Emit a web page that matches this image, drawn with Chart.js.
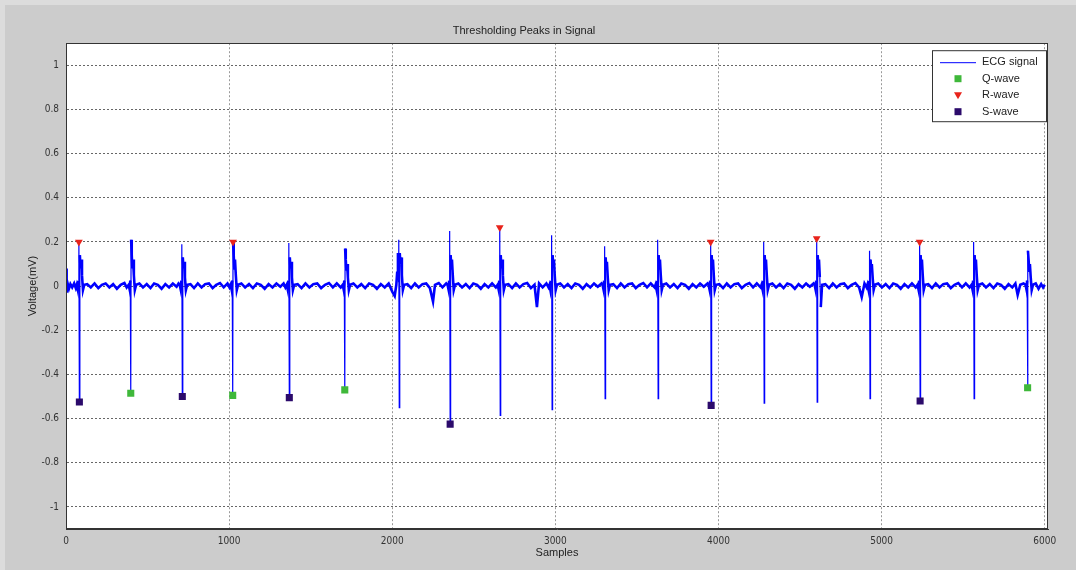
<!DOCTYPE html>
<html>
<head>
<meta charset="utf-8">
<title>Thresholding Peaks in Signal</title>
<script src="https://cdn.jsdelivr.net/npm/chart.js@4.4.1/dist/chart.umd.min.js"></script>
<style>
  html, body { margin: 0; padding: 0; background: #cccccc; }
  #wrap { width: 1076px; height: 570px; }
</style>
</head>
<body>
<div id="wrap"><canvas id="ecg-chart" width="1076" height="570"></canvas></div>
<script>
// axis ticks
const xTicks = [0, 1000, 2000, 3000, 4000, 5000, 6000];
const yTicks = [-1, -0.8, -0.6, -0.4, -0.2, 0, 0.2, 0.4, 0.6, 0.8, 1];

// ECG trace: [sample, mV]
const ecgTrace = [
  [0,0.08],[4,-0.03],[10,0.012],[18,-0.012],[27,0.009],[38,-0.006],[50,0.012],[60,-0.009],
  [66,0.006],[72,-0.015],[76,0.025],[79,0.20],[82,-0.525],[85,0.14],[89,0.08],[93,0.12],[98,0.05],[104,-0.018],[112,0.006],
  [130,0.009],[152,-0.006],[175,0.012],[198,-0.009],[220,0.006],[243,0.012],[266,-0.006],[289,0.009],[312,-0.012],[335,0.006],[358,0.014],[372,-0.006],
  [384,0.006],[390,-0.015],[394,0.025],[397,-0.485],[399,0.21],[403,0.14],[407,0.08],[411,0.12],[416,0.05],[422,-0.018],[430,0.006],
  [450,0.012],[472,-0.006],[495,0.009],[518,-0.009],[540,0.012],[563,0.006],[586,-0.012],[609,0.009],[632,-0.006],[655,0.012],[678,-0.003],[690,0.012],
  [697,0.006],[703,-0.015],[707,0.025],[710,0.19],[713,-0.50],[716,0.13],[720,0.08],[724,0.11],[729,0.04],[735,-0.018],[743,0.006],
  [763,0.009],[785,-0.009],[808,0.012],[831,-0.006],[853,0.009],[876,0.012],[899,-0.009],[921,0.006],[944,0.014],[967,-0.006],[990,0.012],[1002,-0.006],
  [1009,0.006],[1015,-0.015],[1019,0.025],[1022,-0.495],[1024,0.20],[1028,0.14],[1032,0.08],[1036,0.12],[1041,0.05],[1047,-0.018],[1055,0.006],
  [1075,0.012],[1098,-0.006],[1122,0.009],[1146,-0.009],[1170,0.012],[1194,0.006],[1218,-0.012],[1242,0.009],[1266,-0.006],[1290,0.012],[1314,-0.003],[1334,0.012],[1345,-0.006],
  [1353,0.006],[1359,-0.015],[1363,0.025],[1366,0.195],[1369,-0.505],[1372,0.13],[1376,0.08],[1380,0.11],[1385,0.04],[1391,-0.018],[1399,0.006],
  [1420,0.009],[1444,-0.009],[1468,0.012],[1492,-0.006],[1516,0.009],[1540,0.012],[1564,-0.009],[1588,0.006],[1612,0.014],[1636,-0.006],[1660,0.012],[1684,-0.006],
  [1696,0.006],[1702,-0.015],[1706,0.025],[1709,-0.47],[1711,0.17],[1715,0.12],[1719,0.07],[1723,0.10],[1728,0.04],[1734,-0.018],[1742,0.006],
  [1762,0.012],[1786,-0.006],[1810,0.009],[1834,-0.009],[1858,0.012],[1882,0.006],[1906,-0.012],[1930,0.009],[1954,-0.006],[1978,0.012],[2000,-0.025],[2015,-0.045],[2025,0.006],
  [2030,0.06],[2035,0.15],[2038,0.02],[2040,0.21],[2043,-0.55],[2046,0.15],[2050,0.10],[2054,0.13],[2059,0.05],[2065,-0.018],[2073,0.006],
  [2093,0.009],[2116,-0.009],[2139,0.012],[2162,-0.006],[2185,0.009],[2208,0.012],[2231,-0.009],[2250,-0.07],[2262,0.006],[2285,0.014],[2308,-0.006],[2331,0.012],
  [2339,0.006],[2345,-0.015],[2349,0.025],[2352,0.25],[2355,-0.625],[2358,0.14],[2362,0.08],[2366,0.12],[2371,0.05],[2377,-0.018],[2385,0.006],
  [2405,0.012],[2428,-0.006],[2451,0.009],[2474,-0.009],[2497,0.012],[2520,0.006],[2543,-0.012],[2566,0.009],[2589,-0.006],[2612,0.012],[2635,-0.006],
  [2646,0.006],[2652,-0.015],[2656,0.025],[2659,0.265],[2662,-0.585],[2665,0.14],[2669,0.08],[2673,0.12],[2678,0.05],[2684,-0.018],[2692,0.006],
  [2712,0.009],[2735,-0.009],[2758,0.012],[2781,-0.006],[2804,0.009],[2827,0.014],[2850,-0.009],[2872,0.006],[2887,-0.095],[2900,0.012],[2922,-0.006],[2945,0.012],[2958,-0.006],
  [2964,0.006],[2969,-0.015],[2974,0.025],[2977,0.23],[2980,-0.56],[2983,0.14],[2987,0.09],[2991,0.12],[2996,0.05],[3002,-0.018],[3010,0.006],
  [3030,0.012],[3053,-0.006],[3076,0.009],[3099,-0.009],[3122,0.012],[3145,0.006],[3168,-0.012],[3191,0.009],[3214,-0.006],[3237,0.012],[3260,-0.003],[3283,0.012],
  [3289,0.006],[3295,-0.015],[3299,0.025],[3302,0.18],[3305,-0.51],[3308,0.13],[3312,0.08],[3316,0.11],[3321,0.04],[3327,-0.018],[3335,0.006],
  [3355,0.009],[3378,-0.009],[3401,0.012],[3424,-0.006],[3447,0.009],[3470,0.012],[3493,-0.009],[3516,0.006],[3539,0.014],[3562,-0.006],[3585,0.012],[3608,-0.006],
  [3614,0.006],[3620,-0.015],[3624,0.025],[3627,0.21],[3630,-0.51],[3633,0.14],[3637,0.08],[3641,0.12],[3646,0.05],[3652,-0.018],[3660,0.006],
  [3680,0.012],[3703,-0.006],[3726,0.009],[3749,-0.009],[3772,0.012],[3795,0.006],[3818,-0.012],[3841,0.009],[3864,-0.006],[3887,0.012],[3910,-0.003],[3933,0.012],
  [3939,0.006],[3945,-0.015],[3949,0.025],[3952,0.20],[3955,-0.54],[3958,0.14],[3962,0.08],[3966,0.12],[3971,0.05],[3977,-0.018],[3985,0.006],
  [4005,0.009],[4028,-0.009],[4051,0.012],[4074,-0.006],[4097,0.009],[4120,0.012],[4143,-0.009],[4166,0.006],[4189,0.014],[4212,-0.006],[4235,0.012],[4258,-0.006],
  [4264,0.006],[4270,-0.015],[4274,0.025],[4277,0.20],[4280,-0.53],[4283,0.14],[4287,0.08],[4291,0.12],[4296,0.05],[4302,-0.018],[4310,0.006],
  [4330,0.012],[4353,-0.006],[4376,0.009],[4399,-0.009],[4422,0.012],[4445,0.006],[4468,-0.012],[4491,0.009],[4514,-0.006],[4537,0.012],[4560,-0.003],[4583,0.012],
  [4589,0.006],[4595,-0.015],[4599,0.025],[4602,0.215],[4605,-0.525],[4608,0.14],[4612,0.08],[4616,0.12],[4621,0.04],[4627,-0.095],[4635,0.006],
  [4655,0.009],[4678,-0.009],[4701,0.012],[4724,-0.006],[4747,0.009],[4770,0.012],[4793,-0.009],[4816,0.006],[4839,0.014],[4862,-0.006],[4878,-0.05],[4895,0.012],[4908,-0.006],
  [4913,0.006],[4919,-0.015],[4923,0.025],[4926,0.16],[4929,-0.51],[4932,0.12],[4936,0.07],[4940,0.10],[4945,0.04],[4951,-0.018],[4959,0.006],
  [4979,0.012],[5002,-0.006],[5025,0.009],[5048,-0.009],[5071,0.012],[5094,0.006],[5117,-0.012],[5140,0.009],[5163,-0.006],[5186,0.012],[5209,-0.006],
  [5220,0.006],[5226,-0.015],[5230,0.025],[5233,0.20],[5236,-0.52],[5239,0.14],[5243,0.08],[5247,0.12],[5252,0.05],[5258,-0.018],[5266,0.006],
  [5286,0.009],[5309,-0.009],[5332,0.012],[5355,-0.006],[5378,0.009],[5401,0.012],[5424,-0.009],[5447,0.006],[5470,0.014],[5493,-0.006],[5516,0.012],[5539,-0.006],
  [5551,0.006],[5557,-0.015],[5561,0.025],[5564,0.20],[5567,-0.51],[5570,0.14],[5574,0.08],[5578,0.12],[5583,0.05],[5589,-0.018],[5597,0.006],
  [5617,0.012],[5640,-0.006],[5663,0.009],[5686,-0.009],[5709,0.012],[5732,0.006],[5755,-0.012],[5778,0.009],[5801,-0.006],[5820,0.012],[5834,-0.04],[5850,0.006],[5870,0.012],
  [5882,0.006],[5888,-0.015],[5892,0.025],[5895,-0.46],[5897,0.16],[5901,0.12],[5905,0.07],[5909,0.10],[5914,0.04],[5920,-0.018],[5928,0.006],
  [5945,0.012],[5962,-0.012],[5978,0.009],[5990,-0.006],[6000,0.006]
];

// detected peaks
const qSamples = [397, 1022, 1709, 5895];
const qVolts   = [-0.485, -0.495, -0.47, -0.46];
const rSamples = [79, 1024, 2659, 3952, 4602, 5233];
const rVolts   = [0.20, 0.20, 0.265, 0.20, 0.215, 0.20];
const sSamples = [82, 713, 1369, 2355, 3955, 5236];
const sVolts   = [-0.525, -0.50, -0.505, -0.625, -0.54, -0.52];

const toPoints = (xs, ys) => xs.map((x, i) => ({ x: x, y: ys[i] }));

const FONT = '"Liberation Sans", Arial, sans-serif';
const NARROW = '"Liberation Sans Narrow", "DejaVu Sans Condensed", "Liberation Sans", Arial, sans-serif';

// fond gris de la figure + zone blanche + cadre
const figurePlugin = {
  id: "figure",
  beforeDraw(chart) {
    const c = chart.ctx, a = chart.chartArea;
    c.save();
    c.fillStyle = "#cccccc";
    c.fillRect(0, 0, chart.width, chart.height);
    c.fillStyle = "#dcdcdc";
    c.fillRect(0, 0, chart.width, 5);
    c.fillRect(0, 0, 5, chart.height);
    c.fillStyle = "#ffffff";
    c.fillRect(a.left, a.top, a.right - a.left, a.bottom - a.top);
    c.restore();
  },
  afterDraw(chart) {
    const c = chart.ctx, a = chart.chartArea;
    c.save();
    c.strokeStyle = "#333333";
    c.lineWidth = 1;
    c.strokeRect(Math.round(a.left) + 0.5, Math.round(a.top) + 0.5,
                 Math.round(a.right - a.left) - 1, Math.round(a.bottom - a.top) - 1);
    c.restore();
  }
};

// légende dans la zone du graphe, en haut à droite
const boxLegendPlugin = {
  id: "boxLegend",
  afterDraw(chart) {
    const c = chart.ctx, a = chart.chartArea;
    const ds = chart.data.datasets;
    const w = 115, h = 72;
    const x0 = a.right - w - 1, y0 = a.top + 7;
    c.save();
    c.fillStyle = "#ffffff";
    c.fillRect(x0, y0, w, h);
    c.strokeStyle = "#333333";
    c.lineWidth = 1;
    c.strokeRect(x0 + 0.5, y0 + 0.5, w - 1, h - 1);
    c.font = "11px " + FONT;
    c.textBaseline = "middle";
    ds.forEach((d, i) => {
      const y = y0 + 12 + i * 16.5;
      const mx = x0 + 26;
      if (i === 0) {
        c.strokeStyle = d.borderColor;
        c.lineWidth = 1;
        c.beginPath();
        c.moveTo(x0 + 8, y + 0.5);
        c.lineTo(x0 + 44, y + 0.5);
        c.stroke();
      } else if (d.pointStyle === "rect") {
        c.fillStyle = d.pointBackgroundColor;
        c.fillRect(mx - 3.5, y - 3.5, 7, 7);
      } else {
        c.fillStyle = d.pointBackgroundColor;
        c.beginPath();
        c.moveTo(mx - 4, y - 3);
        c.lineTo(mx + 4, y - 3);
        c.lineTo(mx, y + 4);
        c.closePath();
        c.fill();
      }
      c.fillStyle = "#222222";
      c.fillText(d.label, x0 + 50, y);
    });
    c.restore();
  }
};

const ctx_ecg = document.getElementById("ecg-chart").getContext("2d");

new Chart(ctx_ecg, {
  type: "line",
  data: {
    datasets: [
      {
        label: "ECG signal",
        data: ecgTrace.map(p => ({ x: p[0], y: p[1] })),
        borderColor: "#0000ff",
        borderWidth: 2,
        pointRadius: 0,
        tension: 0,
        order: 1,
        segment: {
          // spikes are thin, the noisy baseline looks thicker
          borderWidth: s => Math.abs(s.p1.parsed.y - s.p0.parsed.y) > 0.12 ? 1.2 : 2.6
        }
      },
      {
        label: "Q-wave",
        data: toPoints(qSamples, qVolts),
        showLine: false,
        pointStyle: "rect",
        pointRadius: 5,
        pointBorderWidth: 0,
        pointBackgroundColor: "#3fb83a",
        pointBorderColor: "#3fb83a",
        order: 0
      },
      {
        label: "R-wave",
        data: toPoints(rSamples, rVolts),
        showLine: false,
        pointStyle: "triangle",
        rotation: 180,
        pointRadius: 4.5,
        pointBorderWidth: 0,
        pointBackgroundColor: "#e8231b",
        pointBorderColor: "#e8231b",
        order: 0
      },
      {
        label: "S-wave",
        data: toPoints(sSamples, sVolts),
        showLine: false,
        pointStyle: "rect",
        pointRadius: 5,
        pointBorderWidth: 0,
        pointBackgroundColor: "#2b0a6b",
        pointBorderColor: "#2b0a6b",
        order: 0
      }
    ]
  },
  options: {
    responsive: false,
    animation: false,
    events: [],
    layout: { padding: { left: 0, right: 28, top: 0, bottom: 0 } },
    plugins: {
      legend: { display: false },
      tooltip: { enabled: false },
      title: {
        display: true,
        text: "Thresholding Peaks in Signal",
        color: "#222222",
        font: { family: FONT, size: 11, weight: "normal" },
        padding: { top: 24, bottom: 6 }
      }
    },
    scales: {
      x: {
        type: "linear",
        min: 0,
        max: 6020,
        afterBuildTicks: s => { s.ticks = xTicks.map(v => ({ value: v })); },
        afterFit: s => { s.height = 41; },
        ticks: {
          color: "#333333",
          font: { family: NARROW, size: 10 },
          padding: 6,
          maxRotation: 0,
          callback: v => String(v)
        },
        grid: { color: "#999999", drawTicks: false, lineWidth: 1 },
        border: { display: true, color: "#333333", dash: [2, 2] },
        title: {
          display: true,
          text: "Samples",
          color: "#222222",
          font: { family: FONT, size: 11 },
          padding: { top: 0, bottom: 10 }
        }
      },
      y: {
        type: "linear",
        min: -1.1,
        max: 1.1,
        afterBuildTicks: s => { s.ticks = yTicks.map(v => ({ value: v })); },
        afterFit: s => { s.width = 66; },
        ticks: {
          color: "#333333",
          font: { family: NARROW, size: 10 },
          padding: 7,
          callback: v => String(v)
        },
        grid: { color: "#666666", drawTicks: false, lineWidth: 1 },
        border: { display: true, color: "#333333", dash: [2, 2] },
        title: {
          display: true,
          text: "Voltage(mV)",
          color: "#222222",
          font: { family: FONT, size: 11 },
          padding: { top: 26, bottom: 0 }
        }
      }
    }
  },
  plugins: [figurePlugin, boxLegendPlugin]
});
</script>
</body>
</html>
